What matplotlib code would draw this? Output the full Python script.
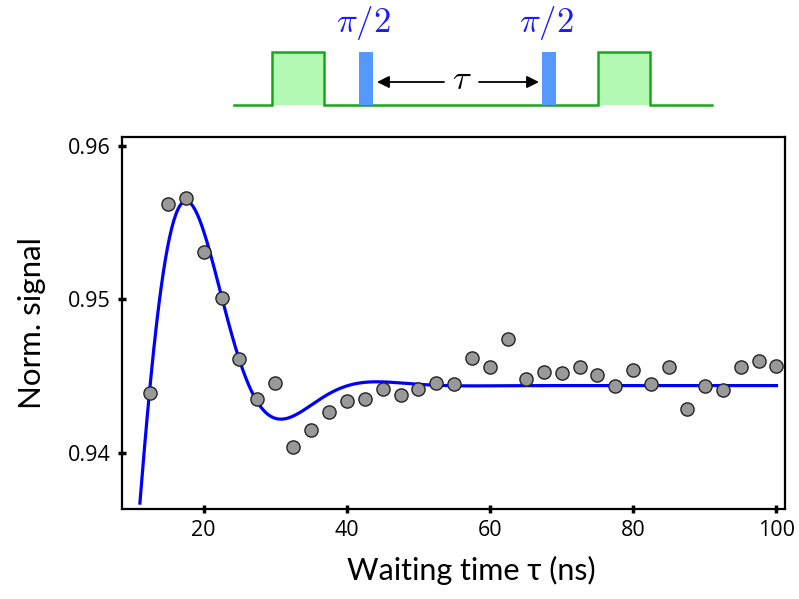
import numpy as np
import matplotlib
matplotlib.use("Agg")
import matplotlib.pyplot as plt
from matplotlib.patches import Rectangle

# ---- data ----
tau_ns = [12.5, 15.0, 17.5, 20.0, 22.5, 25.0, 27.5, 30.0, 32.5, 35.0, 37.5, 40.0,
          42.5, 45.0, 47.5, 50.0, 52.5, 55.0, 57.5, 60.0, 62.5, 65.0, 67.5, 70.0,
          72.5, 75.0, 77.5, 80.0, 82.5, 85.0, 87.5, 90.0, 92.5, 95.0, 97.5, 100.0]
signal = [0.9439, 0.9562, 0.9566, 0.9531, 0.9501, 0.9461, 0.9435, 0.9446, 0.9404,
          0.9415, 0.9427, 0.9434, 0.9435, 0.9442, 0.9438, 0.9442, 0.9446, 0.9445,
          0.9462, 0.9456, 0.9474, 0.9448, 0.9453, 0.9452, 0.9456, 0.9451, 0.9444,
          0.9454, 0.9445, 0.9456, 0.9429, 0.9444, 0.9441, 0.9456, 0.9460, 0.9457]

# fitted curve: y0 + exp(-(t/T)^p) * (a cos(w t) + b sin(w t))
fit_y0 = 0.944401
fit_a = -0.012330
fit_b = -0.040970
fit_T = 15.8
fit_p = 1.55
fit_w = 0.2275
fit_range = (11.1, 100.0)

x_ticks = [20, 40, 60, 80, 100]
y_ticks = [0.94, 0.95, 0.96]
y_tick_labels = ["0.94", "0.95", "0.96"]

W, H = 799, 599
fig = plt.figure(figsize=(W / 100, H / 100), dpi=100)

# ---- main axes ----
left, right, top, bottom = 122, 785, 136.7, 509
ax = fig.add_axes([left / W, (H - bottom) / H, (right - left) / W, (bottom - top) / H])

t = np.linspace(fit_range[0], fit_range[1], 600)
env = np.exp(-(t / fit_T) ** fit_p)
curve = fit_y0 + env * (fit_a * np.cos(fit_w * t) + fit_b * np.sin(fit_w * t))
ax.plot(t, curve, color="#0000ff", lw=2.3, zorder=2)
ax.plot(tau_ns, signal, "o", ms=9.5, mfc="#999999", mec="#222222", mew=1.0,
        ls="none", zorder=3)

ax.set_xlim(8.6, 101.2)
ax.set_ylim(0.93638, 0.96058)
ax.set_xticks(x_ticks)
ax.set_yticks(y_ticks)
ax.set_yticklabels(y_tick_labels)
for s in ax.spines.values():
    s.set_linewidth(1.6)
ax.tick_params(direction="inout", length=6, width=2.5, labelsize=15.5,
               top=False, right=False, pad=5)
for lab in ax.get_xticklabels() + ax.get_yticklabels():
    lab.set_family(["Open Sans", "DejaVu Sans"])

lab_font = ["Lato", "DejaVu Sans"]
ax.set_xlabel("Waiting time τ (ns)", fontsize=22, family=lab_font, labelpad=12)
ax.xaxis.set_label_coords((471 - left) / (right - left), -0.125)
ax.set_ylabel("Norm. signal", fontsize=22.5, family=lab_font, labelpad=16)

# ---- pulse-sequence schematic (pixel coordinates) ----
ds = fig.add_axes([0, 0, 1, 1], zorder=-1)
ds.set_xlim(0, W)
ds.set_ylim(H, 0)
ds.axis("off")
ds.patch.set_alpha(0)

base_y, top_y = 104.5, 52
green_pulses = [(272, 324), (598, 650)]
blue_pulses = [(359, 373), (542, 556)]

for x0, x1 in green_pulses:
    ds.add_patch(Rectangle((x0, top_y), x1 - x0, base_y - top_y,
                           facecolor="#b3f9b3", edgecolor="none"))
xs = [234]
ys = [base_y]
for x0, x1 in green_pulses:
    xs += [x0, x0, x1, x1]
    ys += [base_y, top_y, top_y, base_y]
xs.append(712)
ys.append(base_y)
ds.plot(xs, ys, color="#1aa61a", lw=1.8, solid_joinstyle="miter")
for x0, x1 in blue_pulses:
    ds.add_patch(Rectangle((x0, top_y), x1 - x0, base_y - top_y,
                           facecolor="#5599ff", edgecolor="none", zorder=3))
    ds.text((x0 + x1) / 2 - 3, 23, r"$\pi/2$", color="#1a1aff", fontsize=25,
            ha="center", va="center", math_fontfamily="cm")

arrow_y = 82
ds.annotate("", xy=(377, arrow_y), xytext=(444, arrow_y),
            arrowprops=dict(arrowstyle="-|>", color="black", lw=1.3,
                            mutation_scale=18, shrinkA=0, shrinkB=0))
ds.annotate("", xy=(539, arrow_y), xytext=(479, arrow_y),
            arrowprops=dict(arrowstyle="-|>", color="black", lw=1.3,
                            mutation_scale=18, shrinkA=0, shrinkB=0))
ds.text(462, arrow_y - 3, r"$\tau$", fontsize=25, ha="center", va="center",
        math_fontfamily="cm")

fig.savefig("out.png", dpi=100)
